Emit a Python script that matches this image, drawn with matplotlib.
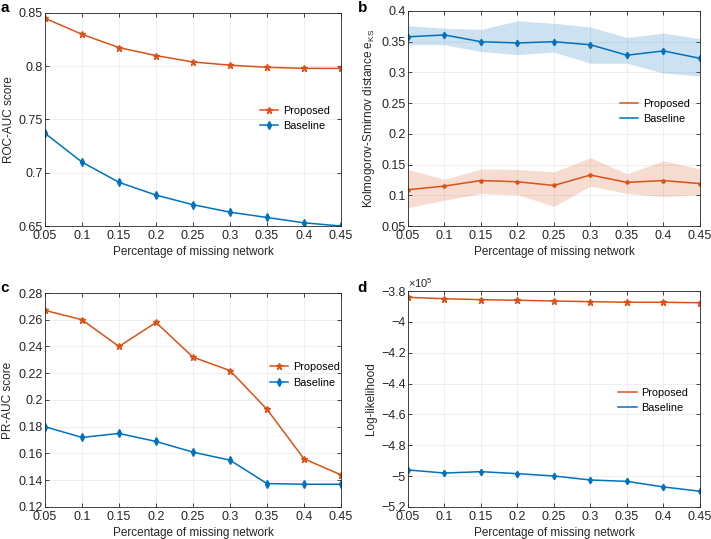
import numpy as np
from matplotlib import pyplot as plt

plt.rcParams['font.family'] = ['Liberation Sans', 'DejaVu Sans']
plt.rcParams['mathtext.fontset'] = 'custom'
plt.rcParams['mathtext.rm'] = 'Liberation Sans'
plt.rcParams['mathtext.it'] = 'Liberation Sans'

# missing network fraction
missing = [0.05, 0.1, 0.15, 0.2, 0.25, 0.3, 0.35, 0.4, 0.45]

# a: ROC-AUC
roc_proposed = [0.845, 0.830, 0.8175, 0.810, 0.804, 0.801, 0.799, 0.798, 0.798]
roc_baseline = [0.737, 0.710, 0.691, 0.679, 0.670, 0.663, 0.658, 0.653, 0.650]

# b: KS distance, mean and band
ks_proposed = [0.109, 0.115, 0.124, 0.122, 0.116, 0.133, 0.121, 0.124, 0.119]
ks_proposed_hi = [0.142, 0.126, 0.143, 0.142, 0.138, 0.161, 0.135, 0.156, 0.143]
ks_proposed_lo = [0.080, 0.092, 0.103, 0.101, 0.082, 0.115, 0.103, 0.098, 0.101]
ks_baseline = [0.358, 0.361, 0.350, 0.348, 0.350, 0.345, 0.328, 0.335, 0.323]
ks_baseline_hi = [0.376, 0.372, 0.370, 0.384, 0.380, 0.374, 0.357, 0.364, 0.355]
ks_baseline_lo = [0.345, 0.345, 0.334, 0.329, 0.333, 0.315, 0.315, 0.299, 0.294]

# c: PR-AUC
pr_proposed = [0.267, 0.260, 0.240, 0.258, 0.232, 0.222, 0.193, 0.156, 0.144]
pr_baseline = [0.180, 0.172, 0.175, 0.169, 0.161, 0.155, 0.1375, 0.137, 0.137]

# d: log-likelihood
ll_proposed = [-3.841e5, -3.850e5, -3.856e5, -3.860e5, -3.865e5, -3.869e5, -3.873e5, -3.873e5, -3.876e5]
ll_baseline = [-4.960e5, -4.980e5, -4.971e5, -4.984e5, -4.999e5, -5.025e5, -5.034e5, -5.070e5, -5.098e5]

ORANGE = '#D95319'
BLUE = '#0072BD'
TXT = '#262626'
xlabels = ['0.05', '0.1', '0.15', '0.2', '0.25', '0.3', '0.35', '0.4', '0.45']


def style_axes(ax, ylim, yticks, ylabels):
    ax.set_xlim(0.05, 0.45)
    ax.set_ylim(*ylim)
    ax.set_xticks(missing)
    ax.set_xticklabels(xlabels)
    ax.set_yticks(yticks)
    ax.set_yticklabels(ylabels)
    ax.grid(True, color='#ebebeb', linewidth=0.6)
    ax.set_axisbelow(True)
    ax.tick_params(direction='in', top=True, right=True, length=3,
                   width=0.6, labelsize=9, colors=TXT, pad=1.5)
    ax.tick_params(axis='x', pad=3.2)
    for s in ax.spines.values():
        s.set_linewidth(0.6)
        s.set_color(TXT)
    ax.set_xlabel('Percentage of missing network', fontsize=8.5, color=TXT, labelpad=2.5)


def add_legend(ax, x, y):
    ax.legend(loc='center left', bbox_to_anchor=(x, y), frameon=False, fontsize=7.8,
              handlelength=1.7, handletextpad=0.45, labelspacing=0.5,
              borderpad=0, borderaxespad=0)


fig = plt.figure(figsize=(7.11, 5.39), dpi=100)
ax_a = fig.add_axes([0.0633, 0.5807, 0.4163, 0.3952])
ax_b = fig.add_axes([0.5738, 0.5807, 0.4107, 0.3989])
ax_c = fig.add_axes([0.0633, 0.0594, 0.4163, 0.3970])
ax_d = fig.add_axes([0.5738, 0.0594, 0.4107, 0.4007])

# a
ax_a.plot(missing, roc_proposed, color=ORANGE, marker='*', markersize=5, linewidth=1.1, label='Proposed')
ax_a.plot(missing, roc_baseline, color=BLUE, marker='d', markersize=3.8, linewidth=1.1, label='Baseline')
style_axes(ax_a, (0.65, 0.85), [0.65, 0.7, 0.75, 0.8, 0.85], ['0.65', '0.7', '0.75', '0.8', '0.85'])
ax_a.set_ylabel('ROC-AUC score', fontsize=8.5, color=TXT, labelpad=3)
add_legend(ax_a, 0.726, 0.505)

# b
ax_b.fill_between(missing, ks_baseline_lo, ks_baseline_hi, color=BLUE, alpha=0.2, linewidth=0)
ax_b.fill_between(missing, ks_proposed_lo, ks_proposed_hi, color=ORANGE, alpha=0.2, linewidth=0)
ax_b.plot(missing, ks_proposed, color=ORANGE, marker='.', markersize=4.5, linewidth=1.1)
ax_b.plot(missing, ks_baseline, color=BLUE, marker='d', markersize=3.3, linewidth=1.1)
ax_b.plot([], [], color=ORANGE, linewidth=1.1, label='Proposed')
ax_b.plot([], [], color=BLUE, linewidth=1.1, label='Baseline')
style_axes(ax_b, (0.05, 0.4), [0.05, 0.1, 0.15, 0.2, 0.25, 0.3, 0.35, 0.4],
           ['0.05', '0.1', '0.15', '0.2', '0.25', '0.3', '0.35', '0.4'])
ax_b.set_ylabel(r'Kolmogorov-Smirnov distance e$_{\mathrm{KS}}$', fontsize=8.5, color=TXT, labelpad=3)
add_legend(ax_b, 0.726, 0.533)

# c
ax_c.plot(missing, pr_proposed, color=ORANGE, marker='*', markersize=5, linewidth=1.1, label='Proposed')
ax_c.plot(missing, pr_baseline, color=BLUE, marker='d', markersize=3.8, linewidth=1.1, label='Baseline')
style_axes(ax_c, (0.12, 0.28), [0.12, 0.14, 0.16, 0.18, 0.2, 0.22, 0.24, 0.26, 0.28],
           ['0.12', '0.14', '0.16', '0.18', '0.2', '0.22', '0.24', '0.26', '0.28'])
ax_c.set_ylabel('PR-AUC score', fontsize=8.5, color=TXT, labelpad=3)
add_legend(ax_c, 0.76, 0.617)

# d
ax_d.plot(missing, ll_proposed, color=ORANGE, marker='*', markersize=5, linewidth=1.1)
ax_d.plot(missing, ll_baseline, color=BLUE, marker='d', markersize=3.3, linewidth=1.1)
ax_d.plot([], [], color=ORANGE, linewidth=1.1, label='Proposed')
ax_d.plot([], [], color=BLUE, linewidth=1.1, label='Baseline')
dticks = [-5.2e5, -5.0e5, -4.8e5, -4.6e5, -4.4e5, -4.2e5, -4.0e5, -3.8e5]
style_axes(ax_d, (-5.2e5, -3.8e5), dticks,
           ['\u22125.2', '\u22125', '\u22124.8', '\u22124.6', '\u22124.4', '\u22124.2', '\u22124', '\u22123.8'])
ax_d.set_ylabel('Log-likelihood', fontsize=8.5, color=TXT, labelpad=3)
ax_d.text(0.0, 1.005, r'$\times10^5$', transform=ax_d.transAxes, fontsize=8,
          color=TXT, ha='left', va='bottom')
add_legend(ax_d, 0.72, 0.493)

# panel letters
fig.text(0.001, 0.998, 'a', fontsize=11, fontweight='bold', va='top')
fig.text(0.503, 0.998, 'b', fontsize=11, fontweight='bold', va='top')
fig.text(0.001, 0.478, 'c', fontsize=11, fontweight='bold', va='top')
fig.text(0.503, 0.478, 'd', fontsize=11, fontweight='bold', va='top')

fig.savefig('out.png', dpi=100, facecolor='white')
